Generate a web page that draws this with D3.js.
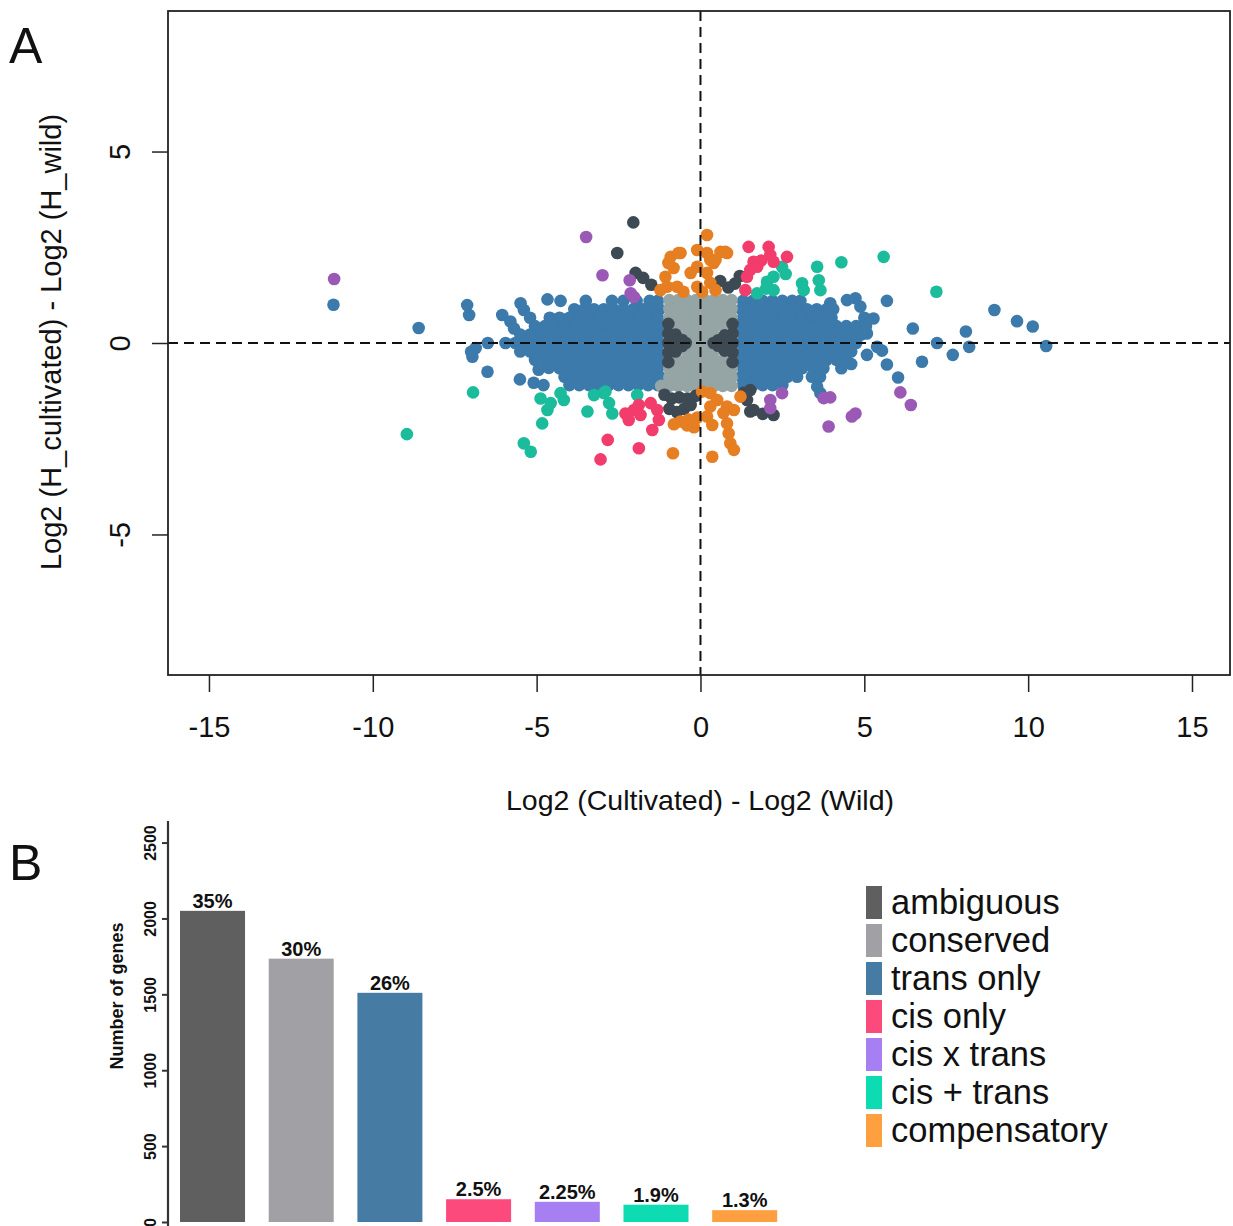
<!DOCTYPE html>
<html>
<head>
<meta charset="utf-8">
<script src="https://cdn.jsdelivr.net/npm/d3@7"></script>
<style>
  body { margin: 0; background: #fff; }
  svg { display: block; }
  text { font-family: "Liberation Sans", Arial, Helvetica, sans-serif; fill: #111; }
</style>
</head>
<body>
<svg id="fig" width="1233" height="1226"></svg>
<script>
// ---------- Panel A: allele-specific expression scatter ----------
const xTicksA = [-15, -10, -5, 0, 5, 10, 15];
const yTicksA = [-5, 0, 5];

// Dense clouds are stored as rows: [y, [x, x, ...]]
const transOnlyCore = [
  [1.1,  [-3.5, -2.7, -2.35, -1.95, -1.55, -1.3, 1.3, 1.6, 1.9, 2.2, 2.5, 2.8, 3.05]],
  [0.88, [-3.85, -3.55, -3.25, -2.95, -2.65, -2.35, -2.05, -1.75, -1.45, -1.25,
          1.25, 1.45, 1.75, 2.05, 2.35, 2.65, 2.95, 3.25, 3.55, 3.85, 4.05]],
  [0.66, [-5.2, -4.6, -4.3, -4.0, -3.7, -3.4, -3.1, -2.8, -2.5, -2.2, -1.9, -1.6, -1.3,
          1.3, 1.6, 1.9, 2.2, 2.5, 2.8, 3.1, 3.4, 3.7, 4.0, 5.0]],
  [0.44, [-5.05, -4.75, -4.45, -4.15, -3.85, -3.55, -3.25, -2.95, -2.65, -2.35, -2.05, -1.75, -1.45, -1.25,
          1.25, 1.45, 1.75, 2.05, 2.35, 2.65, 2.95, 3.25, 3.55, 3.85, 4.15, 4.45, 4.75, 5.05]],
  [0.22, [-5.5, -5.2, -4.9, -4.6, -4.3, -4.0, -3.7, -3.4, -3.1, -2.8, -2.5, -2.2, -1.9, -1.6, -1.3,
          1.3, 1.6, 1.9, 2.2, 2.5, 2.8, 3.1, 3.4, 3.7, 4.0, 4.3, 4.6, 4.9]],
  [0.0,  [-5.95, -5.65, -5.35, -5.05, -4.75, -4.45, -4.15, -3.85, -3.55, -3.25, -2.95, -2.65, -2.35, -2.05, -1.75, -1.45, -1.25,
          1.25, 1.45, 1.75, 2.05, 2.35, 2.65, 2.95, 3.25, 3.55, 3.85, 4.15, 4.45, 4.75]],
  [-0.22, [-5.5, -5.2, -4.9, -4.6, -4.3, -4.0, -3.7, -3.4, -3.1, -2.8, -2.5, -2.2, -1.9, -1.6, -1.3,
           1.3, 1.6, 1.9, 2.2, 2.5, 2.8, 3.1, 3.4, 3.7, 4.0, 4.3, 4.6]],
  [-0.44, [-5.05, -4.75, -4.45, -4.15, -3.85, -3.55, -3.25, -2.95, -2.65, -2.35, -2.05, -1.75, -1.45, -1.25,
           1.25, 1.45, 1.75, 2.05, 2.35, 2.65, 2.95, 3.25, 3.55, 3.85, 4.15, 4.45]],
  [-0.66, [-4.3, -4.0, -3.7, -3.4, -3.1, -2.8, -2.5, -2.2, -1.9, -1.6, -1.3,
           1.3, 1.6, 1.9, 2.2, 2.5, 2.8, 3.1, 3.45, 3.75, 4.3]],
  [-0.88, [-4.15, -3.85, -3.55, -3.25, -2.95, -2.65, -2.35, -2.05, -1.75, -1.45, -1.25,
           1.25, 1.45, 1.75, 2.05, 2.35, 2.65, 2.95, 3.4, 3.65]],
  [-1.1, [-4.0, -3.7, -3.4, -3.1, -2.8, -2.5, -2.2, -1.9, -1.6, -1.3,
          1.3, 1.6, 1.9, 2.2, 2.5]]
];
const transOnlyPoints = [
  [-11.2, 1.0], [-8.6, 0.39], [-7.12, 0.99], [-7.06, 0.73], [-6.96, -0.36], [-6.86, -0.13],
  [-7.0, -0.23], [-6.5, -0.75], [-6.49, 0.0], [-6.05, 0.73], [-5.8, 0.56], [-5.69, 0.38],
  [-5.49, 1.04], [-5.39, 0.86], [-5.51, -0.95], [-5.09, -1.04], [-4.79, -1.1], [-4.94, -0.7],
  [-4.63, -0.65], [-4.67, 1.14], [-4.27, 1.1],
  [3.96, 1.04], [4.47, 1.12], [4.73, 1.17], [4.88, 0.95], [5.69, 1.1], [5.28, 0.64],
  [5.08, 0.25], [5.39, -0.1], [5.08, -0.31], [5.54, -0.2], [4.6, -0.55], [3.56, -1.14],
  [3.66, -1.31], [6.48, 0.38], [7.22, 0.0], [6.76, -0.49], [7.7, -0.31], [8.1, 0.3],
  [8.2, -0.1], [8.97, 0.86], [9.66, 0.57], [10.14, 0.43], [10.55, -0.08], [5.69, -0.56], [6.03, -0.9]
];

const conservedCore = [
  [1.12,  [-0.95, -0.68, -0.41, -0.14, 0.14, 0.41, 0.68, 0.95]],
  [0.9,   [-0.95, -0.68, -0.41, -0.14, 0.14, 0.41, 0.68, 0.95]],
  [0.67,  [-0.95, -0.68, -0.41, -0.14, 0.14, 0.41, 0.68, 0.95]],
  [0.45,  [-0.68, -0.41, -0.14, 0.14, 0.41, 0.68]],
  [0.22,  [-0.41, -0.14, 0.14, 0.41]],
  [0.0,   [-0.14, 0.14]],
  [-0.22, [-0.41, -0.14, 0.14, 0.41]],
  [-0.45, [-0.68, -0.41, -0.14, 0.14, 0.41, 0.68]],
  [-0.67, [-0.95, -0.68, -0.41, -0.14, 0.14, 0.41, 0.68, 0.95]],
  [-0.9,  [-0.95, -0.68, -0.41, -0.14, 0.14, 0.41, 0.68, 0.95]],
  [-1.12, [-1.2, -0.95, -0.68, -0.41, -0.14, 0.14, 0.41, 0.68, 0.95]]
];

const ambiguousPoints = [
  [-0.98, 0.5], [-0.98, 0.25], [-0.98, 0], [-0.98, -0.25], [-0.98, -0.5],
  [-0.76, 0.22], [-0.76, 0], [-0.76, -0.22], [-0.56, 0.08], [-0.56, -0.08], [-0.45, 0],
  [0.98, 0.5], [0.98, 0.25], [0.98, 0], [0.98, -0.25], [0.98, -0.5],
  [0.74, 0.2], [0.74, 0], [0.74, -0.2], [0.54, 0.07], [0.54, -0.07], [0.4, 0],
  [-2.05, 3.15], [-2.54, 2.35], [-1.98, 1.83], [-1.75, 1.7], [-1.5, 1.52],
  [0.6, 1.62], [0.85, 1.45], [1.05, 1.55], [1.2, 1.75],
  [-1.1, -1.35], [-0.88, -1.45], [-0.65, -1.42], [-0.4, -1.45], [-0.15, -1.38],
  [-0.95, -1.72], [-0.72, -1.8], [-0.5, -1.72], [-0.3, -1.62],
  [1.32, -1.3], [1.52, -1.23], [1.42, -1.49], [1.62, -1.75], [1.52, -1.79], [1.9, -1.85], [2.23, -1.88]
];

const cisOnlyPoints = [
  [1.47, 2.51], [2.08, 2.51], [2.13, 2.3], [2.64, 2.25], [1.62, 2.12], [1.52, 1.91],
  [1.42, 1.73], [1.73, 1.99], [2.23, 2.12], [1.85, 2.15], [1.37, 1.38],
  [-2.29, -1.84], [-2.03, -1.75], [-1.88, -1.62], [-1.52, -1.57], [-1.32, -1.75], [-1.27, -2.01],
  [-1.47, -2.27], [-1.83, -1.88], [-2.19, -2.01], [-2.83, -2.53], [-1.88, -2.75], [-3.05, -3.04]
];

const cisXtransPoints = [
  [-11.18, 1.67], [-3.49, 2.77], [-2.99, 1.77], [-2.16, 1.64], [-2.13, 1.3], [-2.03, 1.2],
  [2.49, -1.31], [2.13, -1.49], [2.13, -1.7], [3.76, -1.44], [3.96, -1.42], [3.91, -2.18],
  [4.73, -1.84], [4.62, -1.92], [6.1, -1.29], [6.42, -1.62]
];

const cisPlusTransPoints = [
  [-8.96, -2.38], [-6.94, -1.29], [-5.39, -2.62], [-5.18, -2.84], [-4.88, -1.45], [-4.57, -1.57],
  [-4.67, -1.75], [-4.27, -1.31], [-4.17, -1.49], [-4.83, -2.1], [-3.45, -1.79], [-3.25, -1.36],
  [-2.95, -1.31], [-2.79, -1.57], [-2.69, -1.84], [-1.93, -1.36], [-2.9, -1.27],
  [2.49, 1.99], [2.23, 1.73], [2.03, 1.6], [1.73, 1.3], [2.23, 1.38], [2.0, 1.42], [2.6, 1.8],
  [3.1, 1.56], [3.15, 1.38], [3.56, 1.99], [3.61, 1.64], [3.66, 1.38], [4.3, 2.11], [5.59, 2.25], [7.2, 1.34]
];

const compensatoryPoints = [
  [0.2, 2.82], [-0.91, 2.25], [-0.61, 2.35], [-0.1, 2.43], [0.2, 2.35], [0.61, 2.38], [0.81, 2.35],
  [0.3, 2.17], [-0.1, 1.99], [-0.3, 1.83], [-0.82, 1.96], [-1.07, 1.73], [-1.02, 1.47], [-1.22, 1.38],
  [-0.71, 1.47], [-0.52, 1.34], [-0.1, 1.47], [0.3, 1.57], [0.2, 1.83], [0.05, 1.34], [0.4, 2.09],
  [0.46, 1.38], [0.76, 2.38], [0.46, 2.17], [-0.98, 2.09], [-0.67, 2.35],
  [0.05, -1.27], [0.3, -1.31], [0.51, -1.49], [0.81, -1.66], [1.02, -1.75], [1.22, -1.4], [0.3, -1.66],
  [0.2, -1.92], [-0.1, -1.95], [-0.36, -2.0], [-0.61, -2.05], [-0.81, -2.12], [-0.41, -2.15],
  [-0.2, -2.2], [0.36, -2.14], [0.81, -2.1], [0.86, -2.36], [0.91, -2.62], [1.02, -2.79],
  [-0.84, -2.88], [0.36, -2.97], [0.7, -1.83]
];

// ---------- Panel B: category counts ----------
const categories = ["ambiguous", "conserved", "trans only", "cis only", "cis x trans", "cis + trans", "compensatory"];
const geneCounts = [2050, 1735, 1510, 150, 133, 114, 78];
const percentLabels = ["35%", "30%", "26%", "2.5%", "2.25%", "1.9%", "1.3%"];
const yTicksB = [0, 500, 1000, 1500, 2000, 2500];

const barColors = ["#5f5f5f", "#a1a0a5", "#467ca3", "#fd4a7d", "#a67ff2", "#0ddcb2", "#fe9f40"];
const dotColors = {
  "trans only": "#3b7aab", "conserved": "#95a5a6", "ambiguous": "#3d4a53",
  "cis only": "#f23c6b", "cis x trans": "#9b59b6", "cis + trans": "#1abc9c", "compensatory": "#e67e22"
};

const svg = d3.select("#fig");
const flatRows = rows => rows.flatMap(([yy, xs]) => xs.map(xx => [xx, yy]));
const plain = d => String(d);   // hyphen-minus, no thousands separator
const FONT = '"Liberation Sans", Arial, sans-serif';

// ----- scatter -----
const xA = d3.scaleLinear().domain([-16.25, 16.16]).range([168, 1230]);
const yA = d3.scaleLinear().domain([-8.67, 8.67]).range([675, 11]);
const gA = svg.append("g");

const layers = [
  ["trans only", transOnlyPoints.concat(flatRows(transOnlyCore))],
  ["conserved", flatRows(conservedCore)],
  ["ambiguous", ambiguousPoints],
  ["cis + trans", cisPlusTransPoints],
  ["cis only", cisOnlyPoints],
  ["cis x trans", cisXtransPoints],
  ["compensatory", compensatoryPoints]
];
const plotArea = gA.append("g");
layers.forEach(([name, pts]) => {
  plotArea.append("g").selectAll("circle").data(pts).join("circle")
    .attr("cx", d => xA(d[0])).attr("cy", d => yA(d[1]))
    .attr("r", 6.3).attr("fill", dotColors[name]);
});

// reference lines at zero
gA.append("line").attr("x1", xA(0)).attr("x2", xA(0)).attr("y1", yA.range()[1]).attr("y2", yA.range()[0])
  .attr("stroke", "#111").attr("stroke-width", 2).attr("stroke-dasharray", "10,6");
gA.append("line").attr("x1", xA.range()[0]).attr("x2", xA.range()[1]).attr("y1", yA(0)).attr("y2", yA(0))
  .attr("stroke", "#111").attr("stroke-width", 2).attr("stroke-dasharray", "10,6");

// frame
gA.append("rect").attr("x", 168).attr("y", 11).attr("width", 1062).attr("height", 664)
  .attr("fill", "none").attr("stroke", "#222").attr("stroke-width", 1.8);

// x axis
const xAxisA = gA.append("g").attr("transform", "translate(0,675)")
  .call(d3.axisBottom(xA).tickValues(xTicksA).tickSize(17).tickPadding(24).tickFormat(plain));
xAxisA.select(".domain").remove();
xAxisA.selectAll("line").attr("stroke", "#222").attr("stroke-width", 1.5);
xAxisA.selectAll("text").attr("font-size", 29).attr("fill", "#111").style("font-family", FONT);

// y axis
const yAxisA = gA.append("g").attr("transform", "translate(168,0)")
  .call(d3.axisLeft(yA).tickValues(yTicksA).tickSize(16).tickFormat(plain));
yAxisA.select(".domain").remove();
yAxisA.selectAll("line").attr("stroke", "#222").attr("stroke-width", 1.5);
yAxisA.selectAll("text").attr("x", 0).attr("dy", null).attr("text-anchor", "middle")
  .attr("transform", "translate(-38,0) rotate(-90)")
  .attr("font-size", 29).attr("fill", "#111").style("font-family", FONT);

svg.append("text").attr("x", 700).attr("y", 810).attr("text-anchor", "middle")
  .attr("font-size", 28.5).text("Log2 (Cultivated) - Log2 (Wild)");
svg.append("text").attr("transform", "translate(61,342) rotate(-90)").attr("text-anchor", "middle")
  .attr("font-size", 29).text("Log2 (H_cultivated) - Log2 (H_wild)");
svg.append("text").attr("x", 9).attr("y", 63).attr("font-size", 50).text("A");

// ----- bar chart -----
const xB = d3.scaleBand().domain(categories).range([180, 777.2]).paddingInner(0.267).paddingOuter(0);
const yB = d3.scaleLinear().domain([0, 2642]).range([1222, 821]);
const gB = svg.append("g");

gB.selectAll("rect.bar").data(categories).join("rect").attr("class", "bar")
  .attr("x", d => xB(d)).attr("width", xB.bandwidth())
  .attr("y", (d, i) => yB(geneCounts[i])).attr("height", (d, i) => yB(0) - yB(geneCounts[i]))
  .attr("fill", (d, i) => barColors[i]);

gB.selectAll("text.pct").data(categories).join("text").attr("class", "pct")
  .attr("x", d => xB(d) + xB.bandwidth() / 2)
  .attr("y", (d, i) => yB(geneCounts[i]) - 3)
  .attr("text-anchor", "middle").attr("font-size", 20).attr("font-weight", "bold")
  .text((d, i) => percentLabels[i]);

const yAxisB = gB.append("g").attr("transform", "translate(168,0)")
  .call(d3.axisLeft(yB).tickValues(yTicksB).tickSize(6).tickFormat(plain));
yAxisB.select(".domain").attr("d", `M0,${yB.range()[1]}V1226`).attr("stroke", "#333").attr("stroke-width", 2.2);
yAxisB.selectAll("line").attr("stroke", "#333").attr("stroke-width", 2);
yAxisB.selectAll("text").attr("x", 0).attr("dy", null).attr("text-anchor", "middle")
  .attr("transform", "translate(-12,0) rotate(-90)")
  .attr("font-size", 16).attr("font-weight", "bold").attr("fill", "#333").style("font-family", FONT);

svg.append("text").attr("transform", "translate(123,996) rotate(-90)").attr("text-anchor", "middle")
  .attr("font-size", 18).attr("font-weight", "bold").text("Number of genes");
svg.append("text").attr("x", 9).attr("y", 880).attr("font-size", 50).text("B");

// legend
const legend = svg.append("g").attr("transform", "translate(866,886)");
const items = legend.selectAll("g").data(categories).join("g")
  .attr("transform", (d, i) => `translate(0,${i * 38})`);
items.append("rect").attr("width", 16).attr("height", 33).attr("fill", (d, i) => barColors[i]);
items.append("text").attr("x", 25).attr("y", 28).attr("font-size", 34.5).text(d => d);
</script>
</body>
</html>
